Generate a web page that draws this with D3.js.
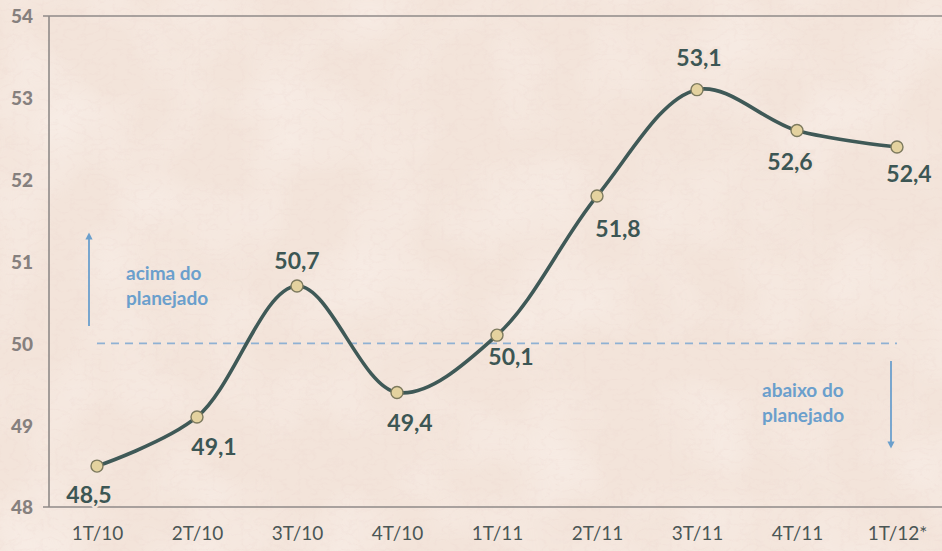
<!DOCTYPE html>
<html>
<head>
<meta charset="utf-8">
<script src="https://cdn.jsdelivr.net/npm/d3@7"></script>
<style>
  html, body { margin: 0; padding: 0; background: #f3e4da; }
  svg { display: block; }
</style>
</head>
<body>
<svg id="chart" width="942" height="551"></svg>
<script>
// Quarterly index readings, 1T/10 through the 1T/12 projection
const quarters = ["1T/10", "2T/10", "3T/10", "4T/10", "1T/11", "2T/11", "3T/11", "4T/11", "1T/12*"];
const values = [48.5, 49.1, 50.7, 49.4, 50.1, 51.8, 53.1, 52.6, 52.4];
const yTicks = [48, 49, 50, 51, 52, 53, 54];
const plannedLevel = 50;
const aboveNote = ["acima do", "planejado"];
const belowNote = ["abaixo do", "planejado"];

const W = 942, H = 551;
const svg = d3.select("#chart");
const FONT = "Lato, 'Open Sans', sans-serif";
const paper = "#f3e4da";

// Paper background with fibrous grain
const defs = svg.append("defs");
const fibres = defs.append("filter").attr("id", "fibres")
  .attr("x", 0).attr("y", 0).attr("width", "100%").attr("height", "100%");
fibres.append("feTurbulence").attr("type", "turbulence")
  .attr("baseFrequency", "0.07 0.1").attr("numOctaves", 4).attr("seed", 11).attr("result", "n");
fibres.append("feColorMatrix").attr("in", "n").attr("type", "matrix")
  .attr("values", "0 0 0 0 0.82  0 0 0 0 0.64  0 0 0 0 0.60  -3 0 0 0 0.85");
const blotch = defs.append("filter").attr("id", "blotch")
  .attr("x", 0).attr("y", 0).attr("width", "100%").attr("height", "100%");
blotch.append("feTurbulence").attr("type", "fractalNoise")
  .attr("baseFrequency", "0.012").attr("numOctaves", 2).attr("seed", 3).attr("result", "n");
blotch.append("feColorMatrix").attr("in", "n").attr("type", "matrix")
  .attr("values", "0 0 0 0 1  0 0 0 0 0.97  0 0 0 0 0.95  1.4 0 0 0 -0.55");

svg.append("rect").attr("width", W).attr("height", H).attr("fill", paper);
svg.append("rect").attr("width", W).attr("height", H).attr("filter", "url(#blotch)").attr("opacity", 0.5);
svg.append("rect").attr("width", W).attr("height", H).attr("filter", "url(#fibres)").attr("opacity", 0.25);

// Scales
const x = d3.scalePoint().domain(quarters).range([47, 947]).padding(0.5);
const y = d3.scaleLinear().domain([48, 54]).range([507, 16]);

const axisColor = "#8f8a88";

// Frame: left axis plus top and bottom rules
const frame = svg.append("g").attr("stroke", axisColor).attr("stroke-width", 1.6).attr("fill", "none");
frame.append("line").attr("x1", 49).attr("x2", 49).attr("y1", y(54)).attr("y2", y(48));
frame.append("line").attr("x1", 43).attr("x2", W).attr("y1", y(54)).attr("y2", y(54));
frame.append("line").attr("x1", 43).attr("x2", W).attr("y1", y(48)).attr("y2", y(48));

// Y axis labels
const yAxis = d3.axisLeft(y).tickValues(yTicks).tickSize(0).tickPadding(16)
  .tickFormat(d3.format("d"));
const yg = svg.append("g").attr("transform", "translate(49,0)").call(yAxis);
yg.select(".domain").remove();
yg.selectAll("text").attr("fill", "#86807e").attr("font-family", FONT)
  .attr("font-size", 19).attr("font-weight", 900).attr("dy", "0.36em");

// X axis labels
const xAxis = d3.axisBottom(x).tickSize(0).tickPadding(0);
const xg = svg.append("g").attr("transform", "translate(0,533)").call(xAxis);
xg.select(".domain").remove();
xg.selectAll("text").attr("fill", "#4b5655").attr("font-family", FONT)
  .attr("font-size", 19).attr("font-weight", 400).attr("dy", "0.36em");

// Planned level reference line
const noteColor = "#6b9fcc";
svg.append("line")
  .attr("x1", x(quarters[0])).attr("x2", x(quarters[quarters.length - 1]))
  .attr("y1", y(plannedLevel)).attr("y2", y(plannedLevel))
  .attr("stroke", "#8fb1d3").attr("stroke-width", 1.6).attr("stroke-dasharray", "8,6");

// Arrow markers
defs.append("marker").attr("id", "head").attr("viewBox", "0 0 10 10")
  .attr("refX", 5).attr("refY", 5).attr("markerWidth", 4).attr("markerHeight", 4)
  .attr("orient", "auto-start-reverse")
  .append("path").attr("d", "M0,0 L10,5 L0,10 z").attr("fill", noteColor);

svg.append("line").attr("x1", 89).attr("x2", 89).attr("y1", 326).attr("y2", 236)
  .attr("stroke", noteColor).attr("stroke-width", 1.8).attr("marker-end", "url(#head)");
svg.append("line").attr("x1", 891).attr("x2", 891).attr("y1", 361).attr("y2", 445)
  .attr("stroke", noteColor).attr("stroke-width", 1.8).attr("marker-end", "url(#head)");

function note(lines, tx, ty) {
  const t = svg.append("text").attr("x", tx).attr("y", ty)
    .attr("fill", noteColor).attr("font-family", FONT).attr("font-size", 19).attr("font-weight", 700);
  lines.forEach((s, i) => t.append("tspan").attr("x", tx).attr("dy", i ? 25 : 0).text(s));
}
note(aboveNote, 126, 280);
note(belowNote, 762, 397);

// Smoothed series line
const pts = quarters.map((q, i) => ({ q, v: values[i] }));
const line = d3.line().x(d => x(d.q)).y(d => y(d.v)).curve(d3.curveCatmullRom.alpha(0.5));
svg.append("path").datum(pts).attr("d", line)
  .attr("fill", "none").attr("stroke", "#3f5957").attr("stroke-width", 3.6)
  .attr("stroke-linecap", "round");

// Value labels (placement offsets relative to each marker)
const labelOffset = [[-8, 37], [17, 38], [0, -17], [13, 39], [14, 30], [21, 41], [2, -24], [-7, 39], [12, 35]];
const fmt = v => d3.format(".1f")(v).replace(".", ",");
const labelColor = "#3c5654";
const labels = svg.append("g").attr("font-family", FONT).attr("font-size", 23).attr("font-weight", 700)
  .attr("text-anchor", "middle");
labels.selectAll("text").data(pts).join("text")
  .attr("x", (d, i) => x(d.q) + labelOffset[i][0])
  .attr("y", (d, i) => y(d.v) + labelOffset[i][1])
  .attr("fill", labelColor)
  .attr("stroke", paper).attr("stroke-width", 5).attr("paint-order", "stroke")
  .text(d => fmt(d.v));

// Markers
svg.append("g").selectAll("circle").data(pts).join("circle")
  .attr("cx", d => x(d.q)).attr("cy", d => y(d.v)).attr("r", 6)
  .attr("fill", "#e4d29f").attr("stroke", "#7d7a5e").attr("stroke-width", 1.4);
</script>
</body>
</html>
